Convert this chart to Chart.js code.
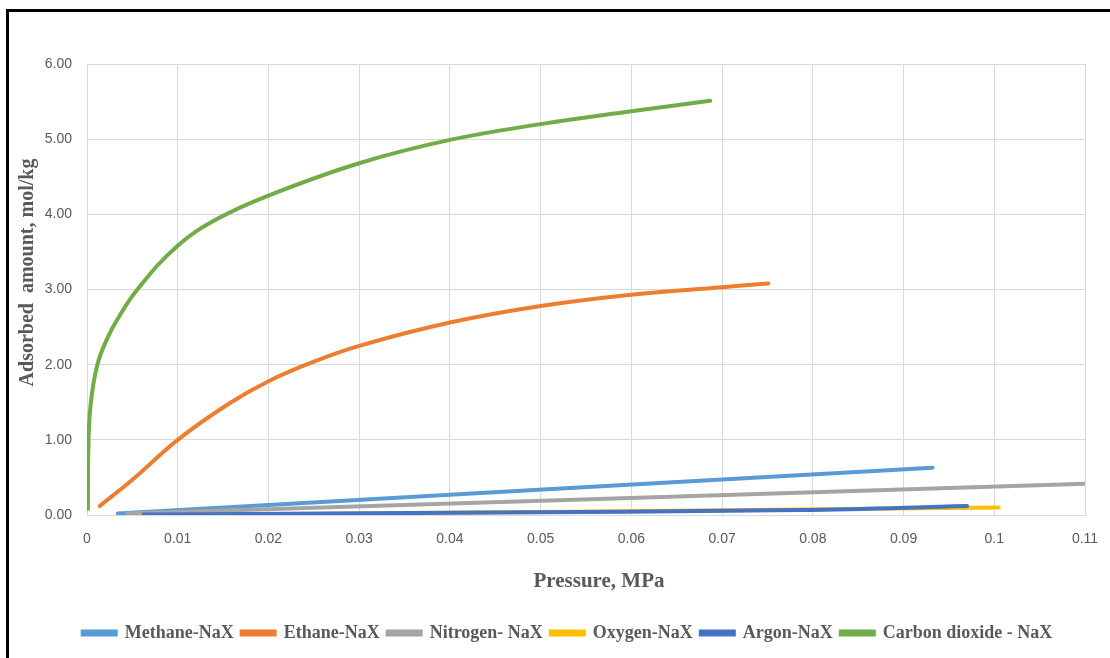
<!DOCTYPE html>
<html>
<head>
<meta charset="utf-8">
<script src="https://cdn.jsdelivr.net/npm/chart.js@4.4.1/dist/chart.umd.min.js"></script>
<style>
  html, body { margin: 0; padding: 0; background: #fff; overflow: hidden; }
  #frame { position: absolute; left: 6px; top: 9px; width: 1110px; height: 660px; border: 3px solid #000; box-sizing: border-box; }
  #chart { position: absolute; left: 0; top: 0; }
</style>
</head>
<body>
<div id="frame"></div>
<canvas id="chart" width="1110" height="658"></canvas>
<script>
// Adsorption isotherms on NaX
const SERIES_NAMES = ['Methane-NaX', 'Ethane-NaX', 'Nitrogen- NaX', 'Oxygen-NaX', 'Argon-NaX', 'Carbon dioxide - NaX'];
const SERIES_COLORS = ['#5B9BD5', '#ED7D31', '#A5A5A5', '#FFC000', '#4472C4', '#70AD47'];

const methaneP = [0.0034, 0.0932];
const methaneQ = [0.02, 0.63];

const ethaneP = [0.0014, 0.0052, 0.0100, 0.0155, 0.0200, 0.0250, 0.030, 0.040, 0.050, 0.060, 0.070, 0.0751];
const ethaneQ = [0.12, 0.49, 1.00, 1.47, 1.78, 2.04, 2.25, 2.56, 2.78, 2.93, 3.03, 3.08];

const nitrogenP = [0.0045, 0.11];
const nitrogenQ = [0.02, 0.415];

const oxygenP = [0.006, 0.050, 0.1005];
const oxygenQ = [0.00, 0.04, 0.10];

const argonP = [0.0062, 0.040, 0.0786, 0.097];
const argonQ = [0.005, 0.03, 0.065, 0.12];

const co2P = [0.0001, 0.00015, 0.0004, 0.00114, 0.00224, 0.00334, 0.00555, 0.00996, 0.01437, 0.020, 0.030, 0.040, 0.050, 0.060, 0.0687];
const co2Q = [0.08, 0.89, 1.47, 2.00, 2.35, 2.60, 3.00, 3.58, 3.94, 4.25, 4.68, 4.99, 5.20, 5.37, 5.51];

const X_TICK_LABELS = ['0', '0.01', '0.02', '0.03', '0.04', '0.05', '0.06', '0.07', '0.08', '0.09', '0.1', '0.11'];
const Y_TICK_LABELS = ['0.00', '1.00', '2.00', '3.00', '4.00', '5.00', '6.00'];
const X_TITLE = 'Pressure, MPa';
const Y_TITLE = 'Adsorbed  amount, mol/kg';

const TEXT = '#595959';
const GRID = '#d9d9d9';
const SERIF = '"Liberation Serif", "Times New Roman", serif';
const SANS = '"Liberation Sans", sans-serif';

const pairs = (xs, ys) => xs.map((x, i) => ({ x, y: ys[i] }));
const allData = [
  pairs(methaneP, methaneQ),
  pairs(ethaneP, ethaneQ),
  pairs(nitrogenP, nitrogenQ),
  pairs(oxygenP, oxygenQ),
  pairs(argonP, argonQ),
  pairs(co2P, co2Q),
];

const datasets = allData.map((d, i) => ({
  label: SERIES_NAMES[i],
  data: d,
  borderColor: SERIES_COLORS[i],
  backgroundColor: SERIES_COLORS[i],
  borderWidth: 4,
  borderCapStyle: 'round',
  pointRadius: 0,
  tension: 0.4,
  order: allData.length - i, // later series painted on top, like Excel
}));

// axis titles and legend sit a bit off-centre in the original
const offCentre = {
  id: 'offCentre',
  afterLayout(chart) {
    chart.legend.left += 20;
    chart.legend.right += 20;
  },
  afterDraw(chart) {
    const { ctx, chartArea: a } = chart;
    ctx.save();
    ctx.fillStyle = TEXT;
    ctx.textAlign = 'center';
    ctx.textBaseline = 'middle';
    ctx.font = 'bold 21px ' + SERIF;
    ctx.fillText(X_TITLE, (a.left + a.right) / 2 + 13, a.bottom + 67);
    ctx.translate(a.left - 59, (a.top + a.bottom) / 2 - 17);
    ctx.rotate(-Math.PI / 2);
    ctx.font = 'bold 20px ' + SERIF;
    ctx.fillText(Y_TITLE, 0, 0);
    ctx.restore();
  },
};

new Chart(document.getElementById('chart'), {
  type: 'line',
  data: { datasets },
  plugins: [offCentre],
  options: {
    responsive: false,
    devicePixelRatio: 1,
    animation: false,
    layout: { padding: { left: 10, right: 25, top: 64, bottom: 6 } },
    plugins: {
      tooltip: { enabled: false },
      legend: {
        position: 'bottom',
        labels: {
          boxWidth: 33,
          boxHeight: 3,
          padding: 8,
          color: TEXT,
          font: { family: SERIF, size: 18, weight: 'bold' },
          sort: (a, b) => a.datasetIndex - b.datasetIndex,
        },
      },
    },
    scales: {
      x: {
        type: 'linear',
        min: 0,
        max: 0.11,
        afterFit: s => { s.height = 101; s.paddingRight = 0; s.paddingLeft = 0; },
        ticks: {
          stepSize: 0.01,
          padding: 16,
          color: TEXT,
          font: { family: SANS, size: 14 },
          callback: v => X_TICK_LABELS[Math.round(v * 100)],
        },
        grid: { color: GRID, drawTicks: false },
        border: { color: GRID },
      },
      y: {
        min: 0,
        max: 6,
        afterFit: s => { s.width = 77; },
        ticks: {
          stepSize: 1,
          padding: 15,
          color: TEXT,
          font: { family: SANS, size: 14 },
          callback: v => Y_TICK_LABELS[Math.round(v)],
        },
        grid: { color: GRID, drawTicks: false },
        border: { color: GRID },
      },
    },
  },
});
</script>
</body>
</html>
